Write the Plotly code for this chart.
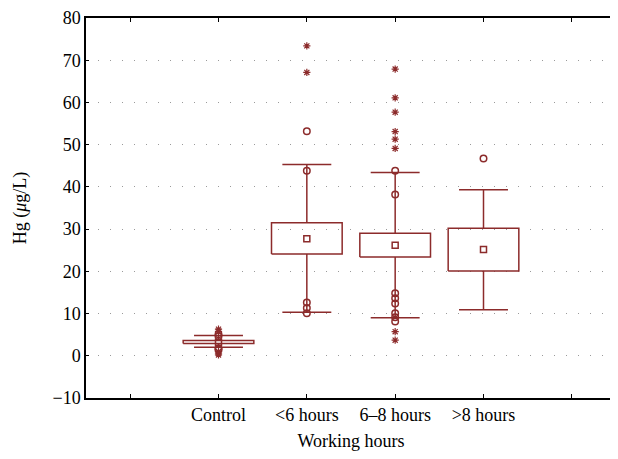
import plotly.graph_objects as go

categories = ["Control", "<6 hours", "6–8 hours", ">8 hours"]
positions = [1, 2, 3, 4]
tick_positions = [0, 1, 2, 3, 4, 5]
tick_labels = ["", "Control", "<6 hours", "6–8 hours", ">8 hours", ""]

medians = [3.2, 27.7, 26.2, 25.2]
q1 = [2.9, 24.1, 23.4, 20.1]
q3 = [3.6, 31.5, 29.0, 30.2]
whisker_low = [2.0, 10.3, 9.0, 10.9]
whisker_high = [4.8, 45.3, 43.4, 39.3]

outliers = [
    [5.1, 4.6, 1.7, 1.4],
    [53.2, 43.8, 12.6, 11.3, 10.1],
    [43.8, 38.2, 14.8, 13.6, 12.4, 10.1, 9.1, 8.1],
    [46.7],
]
extremes = [
    [6.3, 5.8, 1.0, 0.6, 0.2],
    [73.4, 67.1],
    [67.9, 61.1, 57.7, 53.1, 51.3, 49.1, 5.7, 3.7],
    [],
]

COLOR = "#8c2b2b"
BOX_HALF = 0.4
CAP_HALF = 0.277

fig = go.Figure()

bx, by = [], []
for p, a, b, lo, hi in zip(positions, q1, q3, whisker_low, whisker_high):
    bx += [p - BOX_HALF, p + BOX_HALF, p + BOX_HALF, p - BOX_HALF, p - BOX_HALF, None]
    by += [a, a, b, b, a, None]
    bx += [p, p, None, p, p, None]
    by += [b, hi, None, a, lo, None]
    bx += [p - CAP_HALF, p + CAP_HALF, None, p - CAP_HALF, p + CAP_HALF, None]
    by += [hi, hi, None, lo, lo, None]

fig.add_trace(go.Scatter(x=bx, y=by, mode="lines",
                         line=dict(color=COLOR, width=1.5),
                         hoverinfo="skip", showlegend=False))

ox, oy = [], []
for p, vals in zip(positions, outliers):
    ox += [p] * len(vals)
    oy += vals
fig.add_trace(go.Scatter(x=ox, y=oy, mode="markers",
                         marker=dict(symbol="circle-open", size=6.5, color=COLOR,
                                     line=dict(width=1.5, color=COLOR)),
                         showlegend=False, name="Outliers"))

ex, ey = [], []
for p, vals in zip(positions, extremes):
    ex += [p] * len(vals)
    ey += vals
fig.add_trace(go.Scatter(x=ex, y=ey, mode="markers",
                         marker=dict(symbol="asterisk-open", size=6, color=COLOR,
                                     line=dict(width=1.2, color=COLOR)),
                         showlegend=False, name="Extremes"))

fig.add_trace(go.Scatter(x=positions, y=medians, mode="markers",
                         marker=dict(symbol="square-open", size=6, color=COLOR,
                                     line=dict(width=1.5, color=COLOR)),
                         showlegend=False, name="Median"))

FONT = "Liberation Serif"
FS = 18

fig.update_layout(
    width=610, height=451, autosize=False,
    margin=dict(l=78, r=2, t=10, b=61),
    plot_bgcolor="white", paper_bgcolor="white",
    font=dict(family=FONT, size=FS, color="black"),
    xaxis=dict(
        range=[-0.5, 5.5],
        tickvals=tick_positions, ticktext=tick_labels,
        ticks="inside", ticklen=4, tickcolor="black",
        showline=True, linecolor="black", linewidth=1.5, mirror="ticks",
        showgrid=False, zeroline=False, automargin=False,
        title=dict(text="Working hours", font=dict(family=FONT, size=FS), standoff=10),
        tickfont=dict(family=FONT, size=FS),
    ),
    yaxis=dict(
        range=[-10, 80],
        tickvals=[-10, 0, 10, 20, 30, 40, 50, 60, 70, 80],
        ticks="inside", ticklen=3, tickcolor="black",
        showline=True, linecolor="black", linewidth=1.5, mirror="ticks",
        showgrid=True, gridcolor="#9a9a9a", gridwidth=1, griddash="1px,11px",
        zeroline=False, automargin=False,
        title=dict(text="Hg (<i>μ</i>g/L)", font=dict(family=FONT, size=FS), standoff=21),
        tickfont=dict(family=FONT, size=FS),
    ),
)

fig.write_html("out.html", config={"responsive": False})
